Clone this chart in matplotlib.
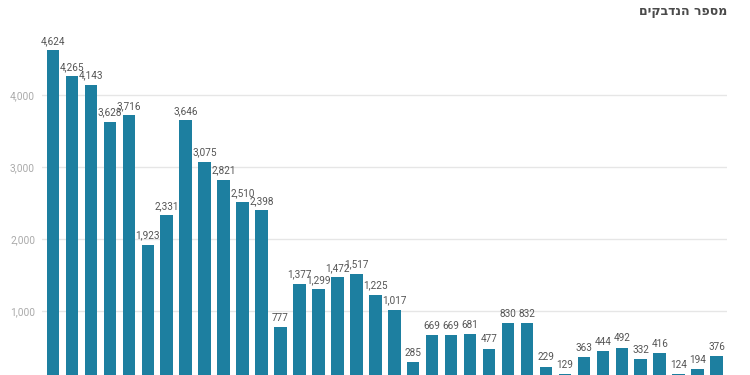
import matplotlib
matplotlib.use("Agg")
import matplotlib.pyplot as plt
from matplotlib.ticker import FuncFormatter

plt.rcParams['font.family'] = ['Roboto', 'DejaVu Sans']

title = "מספר הנדבקים"
values = [4624, 4265, 4143, 3628, 3716, 1923, 2331, 3646, 3075, 2821, 2510, 2398,
          777, 1377, 1299, 1472, 1517, 1225, 1017, 285, 669, 669, 681, 477,
          830, 832, 229, 129, 363, 444, 492, 332, 416, 124, 194, 376]
yticks = [1000, 2000, 3000, 4000]

bar_color = "#1d7fa0"

fig = plt.figure(figsize=(7.5, 3.75), dpi=100)
ax = fig.add_axes([42 / 750, 0, 685 / 750, 1])

x = range(len(values))
bars = ax.bar(x, values, width=0.66, color=bar_color, zorder=2)

for xi, v in zip(x, values):
    ax.annotate(f"{v:,}", (xi, v), xytext=(0, 3), textcoords="offset points",
                ha="center", va="bottom", fontsize=7.2, color="#555555", zorder=3)

ax.set_xlim(-0.58, len(values) - 0.45)
ax.set_ylim(111, 5319)
ax.set_yticks(yticks)
ax.yaxis.set_major_formatter(FuncFormatter(lambda v, p: f"{int(v):,}"))
ax.tick_params(axis="y", length=0, pad=5, labelsize=7.3, labelcolor="#aaaaaa")
ax.set_xticks([])
ax.grid(axis="y", color="#e6e6e6", linewidth=1, zorder=0)
for s in ax.spines.values():
    s.set_visible(False)

# matplotlib has no bidi support, so the RTL title is drawn reversed
fig.text(727 / 750, 1 - 12 / 375, title[::-1], ha="right", va="center",
         fontsize=9, fontweight="bold", color="#4a4a4a", family=['DejaVu Sans'])

fig.savefig("out.png", dpi=100)
